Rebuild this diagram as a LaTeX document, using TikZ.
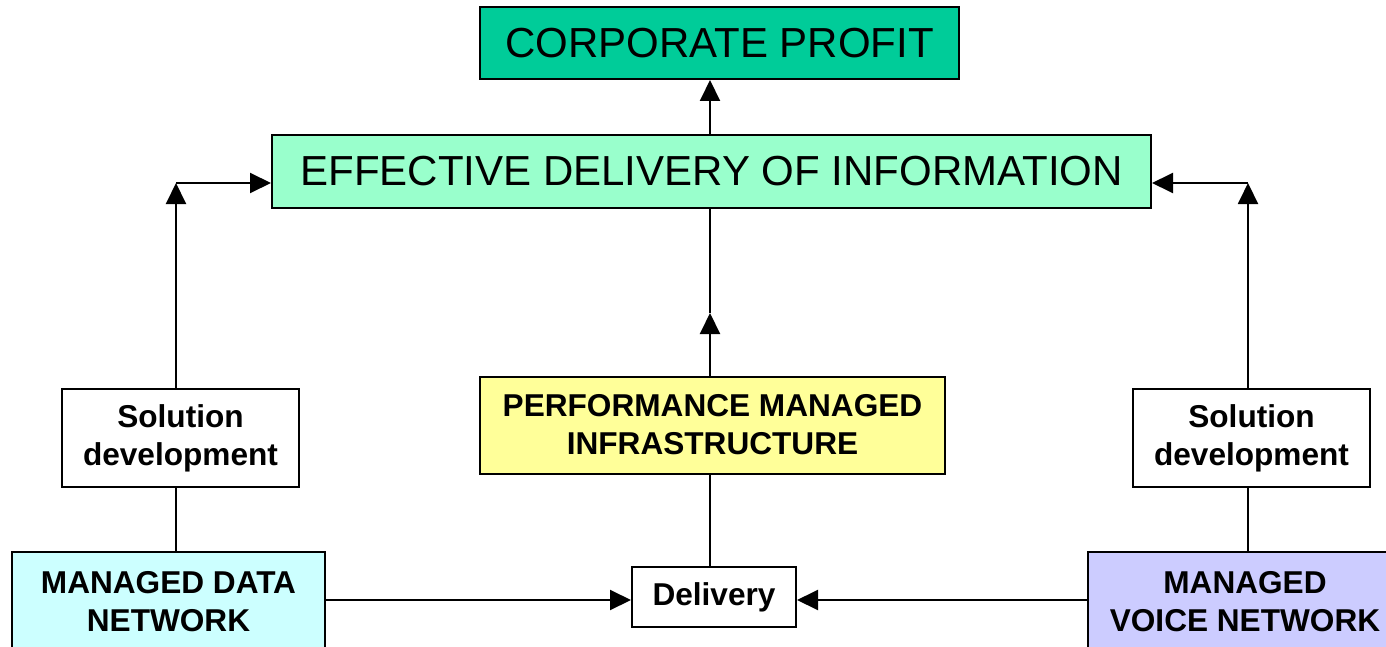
\documentclass[tikz,border=0pt]{standalone}
\usepackage{fontspec}
\setmainfont{Liberation Sans}
\usetikzlibrary{arrows.meta}

\definecolor{profitgreen}{HTML}{00CC99}
\definecolor{infogreen}{HTML}{99FFCC}
\definecolor{infrayellow}{HTML}{FFFF99}
\definecolor{datacyan}{HTML}{CCFFFF}
\definecolor{voiceblue}{HTML}{CCCCFF}

\tikzset{
  box/.style={draw, line width=1pt, align=center, inner sep=0pt},
  bigbox/.style={box, font=\fontsize{21}{25}\selectfont},
  smallbox/.style={box, font=\fontsize{15.8}{19}\selectfont\bfseries},
  link/.style={line width=1pt},
  arrow/.style={link, -{Triangle[length=10.5pt,width=10pt]}},
}

\begin{document}
\begin{tikzpicture}[x=0.5pt, y=-0.5pt]

    % 範囲の設定
    \useasboundingbox (0,0) rectangle (1386,647);
    \clip (0,0) rectangle (1386,647);

    % 点の定義
    \coordinate (lx) at (176,0);
    \coordinate (cx) at (710,0);
    \coordinate (rx) at (1248,0);
    \coordinate (ly) at (0,183);
    \coordinate (by) at (0,600);

    % ボックスの描画
    \node[bigbox, fill=profitgreen, minimum width=239.5pt, minimum height=36pt]
        (profit) at (719.5,43) {CORPORATE PROFIT};
    \node[bigbox, fill=infogreen, minimum width=439.5pt, minimum height=36.5pt]
        (info) at (711.5,171.5) {EFFECTIVE DELIVERY OF INFORMATION};
    \node[smallbox, fill=white, minimum width=118.5pt, minimum height=49pt]
        (soll) at (180.5,438) {Solution\\development};
    \node[smallbox, fill=white, minimum width=118.5pt, minimum height=49pt]
        (solr) at (1251.5,438) {Solution\\development};
    \node[smallbox, fill=infrayellow, minimum width=232.5pt, minimum height=48.5pt]
        (infra) at (712.5,425) {PERFORMANCE MANAGED\\INFRASTRUCTURE};
    \node[smallbox, fill=white, minimum width=82pt, minimum height=30pt]
        (deliv) at (714,597) {Delivery};
    \node[smallbox, fill=datacyan, minimum width=156.5pt, minimum height=50pt]
        (data) at (168.5,602) {MANAGED DATA\\NETWORK};
    \node[smallbox, fill=voiceblue, minimum width=157pt, minimum height=50pt]
        (voice) at (1245,602) {MANAGED\\VOICE NETWORK};

    % 中間点
    \coordinate (lc) at (lx |- ly);
    \coordinate (rc) at (rx |- ly);
    \coordinate (cm) at (710,313);

    % 線分の描画
    \draw[arrow] (info.north -| cx) -- (profit.south -| cx);
    \draw[link] (data.north -| lx) -- (soll.south -| lx);
    \draw[arrow] (soll.north -| lx) -- (lc);
    \draw[arrow] (lc) -- (info.west |- lc);
    \draw[link] (voice.north -| rx) -- (solr.south -| rx);
    \draw[arrow] (solr.north -| rx) -- (rc);
    \draw[arrow] (rc) -- (info.east |- rc);
    \draw[arrow] (infra.north -| cx) -- (cm);
    \draw[link] (cm) -- (info.south -| cx);
    \draw[link] (deliv.north -| cx) -- (infra.south -| cx);
    \draw[arrow] (data.east |- by) -- (deliv.west |- by);
    \draw[arrow] (voice.west |- by) -- (deliv.east |- by);

\end{tikzpicture}
\end{document}
